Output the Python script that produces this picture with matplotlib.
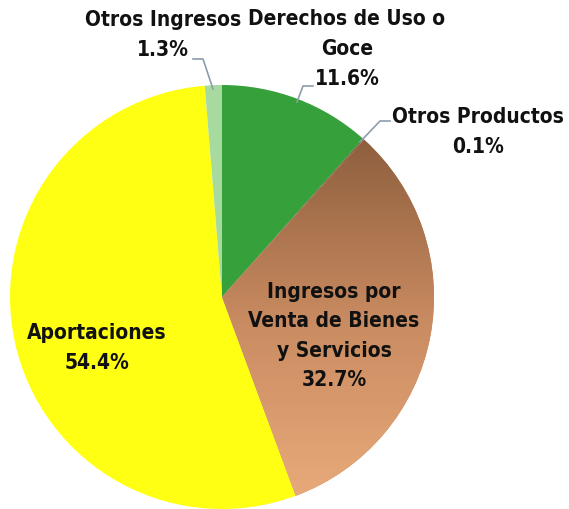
import matplotlib
matplotlib.use("Agg")
import matplotlib.pyplot as plt
import numpy as np
from matplotlib.colors import LinearSegmentedColormap

# Data
labels = ["Derechos de Uso o\nGoce", "Otros Productos", "Ingresos por\nVenta de Bienes\ny Servicios",
          "Aportaciones", "Otros Ingresos"]
values = [11.6, 0.1, 32.7, 54.4, 1.3]
colors = ["#36A03A", "#7A5A40", "#C08050", "#FFFF14", "#A6DA9E"]

W, H = 569, 510
fig = plt.figure(figsize=(W / 100, H / 100), dpi=100)
ax = fig.add_axes([0, 0, 1, 1])

cx, cy, r = 222, H - 298, 212
wedges, _ = ax.pie(values, colors=colors, startangle=90, counterclock=False,
                   center=(cx, cy), radius=r, frame=True,
                   wedgeprops=dict(linewidth=0))
ax.set_xlim(0, W)
ax.set_ylim(0, H)
ax.set_aspect("equal")
ax.axis("off")

# brown gradient on "Ingresos por Venta"
brown = LinearSegmentedColormap.from_list("brown", ["#8A5C3C", "#C88A60", "#EBAC7C"])
grad = np.linspace(0, 1, 256).reshape(-1, 1)
img = ax.imshow(grad, cmap=brown, extent=(cx, cx + r, cy - r, cy + r * 0.8),
                origin="upper", aspect="auto", zorder=wedges[2].get_zorder() + 0.1)
img.set_clip_path(wedges[2])
ax.set_xlim(0, W)
ax.set_ylim(0, H)

tkw = dict(fontsize=15, fontweight="bold", family="DejaVu Sans", fontstretch="condensed",
           ha="center", va="center", color="#111111", linespacing=1.6)

def pct(v):
    return "{:.1f}%".format(v)

# labels
ax.text(163, H - 35, "Otros Ingresos\n" + pct(values[4]), **tkw)
ax.text(347, H - 49, "Derechos de Uso o\nGoce\n" + pct(values[0]), **tkw)
ax.text(478, H - 132, "Otros Productos\n" + pct(values[1]), **tkw)
ax.text(334, H - 336, "Ingresos por\nVenta de Bienes\ny Servicios\n" + pct(values[2]), **tkw)
ax.text(97, H - 348, "Aportaciones\n" + pct(values[3]), **tkw)

# leader lines
lc = "#8E9CAC"
ax.plot([193, 203, 213], [H - 60, H - 60, H - 90], color=lc, lw=1.2)
ax.plot([297, 303, 313], [H - 103, H - 87, H - 87], color=lc, lw=1.2)
ax.plot([360, 380, 390], [H - 143, H - 122, H - 122], color=lc, lw=1.2)

fig.savefig("out.png", dpi=100, facecolor="white")
